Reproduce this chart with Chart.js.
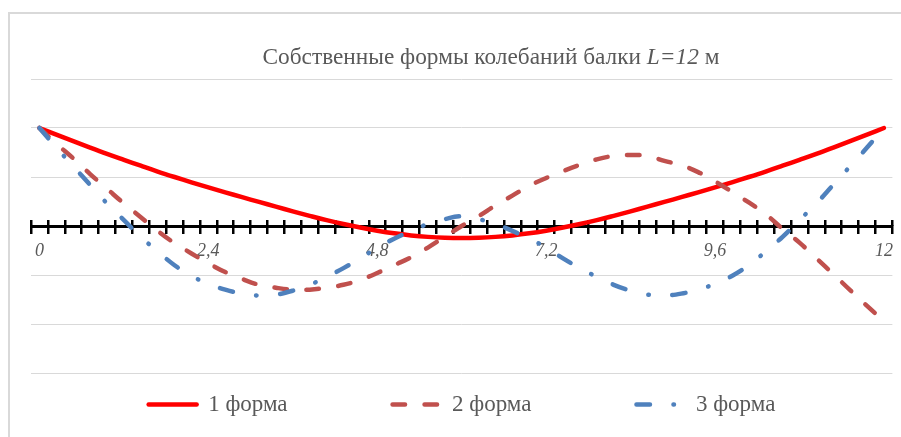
<!DOCTYPE html>
<html lang="ru">
<head>
<meta charset="utf-8">
<title>Собственные формы колебаний балки</title>
<script src="https://cdn.jsdelivr.net/npm/chart.js@4.4.1/dist/chart.umd.min.js"></script>
<style>
  html, body { margin: 0; padding: 0; background: #fff; overflow: hidden; }
  #wrap { position: relative; width: 901px; height: 437px; }
  #frame {
    position: absolute; left: 8px; top: 12px; width: 1000px; height: 1000px;
    border-left: 2px solid #d9d9d9; border-top: 2px solid #d9d9d9;
  }
  #chart { position: absolute; left: 0; top: 0; }
  #title {
    position: absolute; left: 491px; top: 45px; transform: translateX(-50%);
    white-space: nowrap; font-family: "Liberation Serif", serif; font-size: 23.3px;
    line-height: 23px; color: #595959;
  }
</style>
</head>
<body>
<div id="wrap">
  <div id="frame"></div>
  <canvas id="chart" width="901" height="437"></canvas>
  <div id="title">Собственные формы колебаний балки <i>L=12</i> м</div>
</div>
<script>
// положения по длине балки, м (категории оси X)
const positions = [
  '0', '0,24', '0,48', '0,72', '0,96', '1,2', '1,44', '1,68', '1,92', '2,16',
  '2,4', '2,64', '2,88', '3,12', '3,36', '3,6', '3,84', '4,08', '4,32', '4,56',
  '4,8', '5,04', '5,28', '5,52', '5,76', '6', '6,24', '6,48', '6,72', '6,96',
  '7,2', '7,44', '7,68', '7,92', '8,16', '8,4', '8,64', '8,88', '9,12', '9,36',
  '9,6', '9,84', '10,08', '10,32', '10,56', '10,8', '11,04', '11,28', '11,52', '11,76',
  '12'
];

// подписи, которые видны на оси
const shownTicks = ['0', '2,4', '4,8', '7,2', '9,6', '12'];

const seriesNames = ['1 форма', '2 форма', '3 форма'];

const form1 = [
  1.000, 0.932, 0.866, 0.800, 0.736, 0.675, 0.615, 0.556, 0.500, 0.446,
  0.394, 0.344, 0.294, 0.246, 0.198, 0.150, 0.104, 0.060, 0.020, -0.016,
  -0.048, -0.075, -0.096, -0.111, -0.120, -0.123, -0.120, -0.111, -0.096, -0.075,
  -0.048, -0.016, 0.020, 0.060, 0.104, 0.150, 0.198, 0.246, 0.294, 0.344,
  0.394, 0.446, 0.500, 0.556, 0.615, 0.675, 0.736, 0.800, 0.866, 0.932,
  1.000
];

const form2 = [
  1.00, 0.84, 0.69, 0.53, 0.38, 0.23, 0.09, -0.05, -0.175, -0.28,
  -0.38, -0.47, -0.54, -0.60, -0.63, -0.65, -0.65, -0.63, -0.60, -0.55,
  -0.48, -0.40, -0.32, -0.22, -0.11, 0.00, 0.10, 0.21, 0.31, 0.41,
  0.49, 0.56, 0.625, 0.68, 0.715, 0.725, 0.715, 0.665, 0.62, 0.55,
  0.455, 0.35, 0.24, 0.12, -0.03, -0.17, -0.33, -0.49, -0.655, -0.815,
  -0.97
];

const form3 = [
  1.00, 0.80, 0.61, 0.42, 0.23, 0.06, -0.11, -0.26, -0.40, -0.51,
  -0.59, -0.65, -0.69, -0.71, -0.70, -0.66, -0.60, -0.52, -0.43, -0.33,
  -0.22, -0.13, -0.05, 0.02, 0.07, 0.10, 0.07, 0.02, -0.05, -0.13,
  -0.22, -0.33, -0.43, -0.52, -0.60, -0.66, -0.70, -0.71, -0.69, -0.65,
  -0.59, -0.51, -0.40, -0.26, -0.11, 0.06, 0.23, 0.42, 0.61, 0.80,
  1.00
];

const gray = '#595959';
const serif = 'Liberation Serif';

// легенда Excel стоит широко: большой отступ между пунктами, затем поднимаем её под график
// (v4 обрезает легенду по её же рамке, поэтому рамку растягиваем до низа холста)
const legendLift = {
  id: 'legendLift',
  afterLayout(chart) {
    const lg = chart.legend;
    if (!lg) return;
    lg.top -= 85;
    lg.bottom = chart.height;
    lg.height = lg.bottom - lg.top;
  }
};

const chart = new Chart(document.getElementById('chart'), {
  type: 'line',
  data: {
    labels: positions,
    datasets: [
      {
        label: seriesNames[0],
        data: form1,
        borderColor: '#ff0000',
        backgroundColor: '#ff0000',
        borderWidth: 4.5,
        borderCapStyle: 'round',
        order: 3
      },
      {
        label: seriesNames[1],
        data: form2,
        borderColor: '#c0504d',
        backgroundColor: '#c0504d',
        borderWidth: 4.5,
        borderDash: [12.5, 19.5],
        borderCapStyle: 'round',
        order: 2
      },
      {
        label: seriesNames[2],
        data: form3,
        borderColor: '#4f81bd',
        backgroundColor: '#4f81bd',
        borderWidth: 4.5,
        borderDash: [13.5, 23.5, 0.5, 23.5],
        borderCapStyle: 'round',
        order: 1
      }
    ]
  },
  options: {
    responsive: false,
    animation: false,
    elements: {
      point: { radius: 0 },
      line: { tension: 0.4, fill: false }
    },
    layout: { padding: { left: 31, right: 8, top: 79, bottom: 0 } },
    plugins: {
      title: { display: false },
      tooltip: { enabled: false },
      legend: {
        position: 'bottom',
        maxHeight: 64,
        labels: {
          usePointStyle: true,
          pointStyle: 'line',
          pointStyleWidth: 48,
          padding: 105,
          color: gray,
          font: { family: serif, size: 23 },
          sort: (a, b) => a.datasetIndex - b.datasetIndex,
          // with usePointStyle the default items lose the dash, so take it from the dataset
          generateLabels(chart) {
            const items = Chart.defaults.plugins.legend.labels.generateLabels(chart);
            items.forEach(it => {
              const ds = chart.data.datasets[it.datasetIndex];
              it.lineDash = ds.borderDash || [];
              it.lineWidth = ds.borderWidth;
              it.lineCap = ds.borderCapStyle;
              it.strokeStyle = ds.borderColor;
            });
            return items;
          }
        }
      }
    },
    scales: {
      x: {
        type: 'category',
        offset: true,
        position: { y: 0 },
        border: { display: true, color: '#000', width: 3 },
        grid: {
          offset: true,
          drawOnChartArea: false,
          drawTicks: true,
          tickLength: 6,
          color: '#000',
          lineWidth: 2.5
        },
        ticks: {
          autoSkip: false,
          maxRotation: 0,
          padding: 8,
          color: gray,
          font: { family: serif, style: 'italic', size: 18 },
          callback(value) {
            const lab = this.getLabelForValue(value);
            return shownTicks.includes(lab) ? lab : '';
          }
        }
      },
      x2: {
        type: 'category',
        offset: true,
        position: { y: 0 },
        border: { display: false },
        grid: {
          offset: true,
          drawOnChartArea: false,
          drawTicks: true,
          tickLength: -6,
          color: '#000',
          lineWidth: 2.5
        },
        ticks: { display: false }
      },
      y: {
        min: -1.5,
        max: 1.5,
        border: { display: false },
        grid: { color: '#d9d9d9', lineWidth: 1, drawTicks: false },
        ticks: { display: false, stepSize: 0.5 },
        afterFit(scale) { scale.width = 0; }
      }
    }
  },
  plugins: [legendLift]
});
</script>
</body>
</html>
